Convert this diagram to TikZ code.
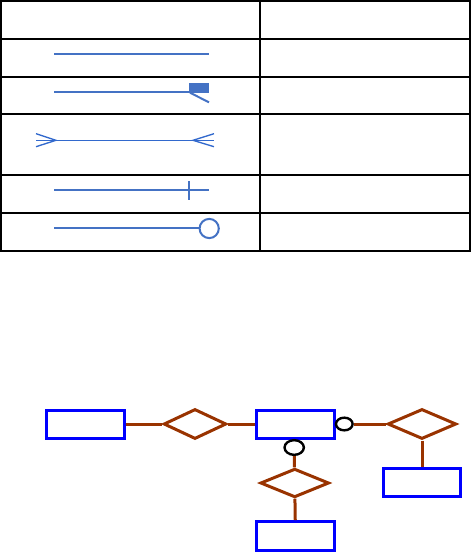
\documentclass[tikz,border=0pt]{standalone}
\usepackage{tikz}
\usetikzlibrary{shapes.geometric}

\definecolor{symblue}{RGB}{68,114,196}
\definecolor{crowblue}{RGB}{50,105,205}
\definecolor{relbrown}{RGB}{153,51,0}

\begin{document}
\begin{tikzpicture}[x=0.75pt, y=-0.75pt,
  grid/.style={draw=black, line width=1.5pt},
  sym/.style={draw=symblue, line width=1.5pt},
  entity/.style={draw=blue, line width=2.25pt, minimum width=58pt, minimum height=21pt, inner sep=0pt},
  rel/.style={diamond, draw=relbrown, line width=2.25pt, inner sep=0pt},
  link/.style={draw=relbrown, line width=2.25pt},
  ring/.style={ellipse, draw=black, line width=1.8pt, inner sep=0pt, minimum width=12.5pt, minimum height=9.5pt}]
  \useasboundingbox (0,0) rectangle (471,554);
  \draw[grid] (1,1) rectangle (470,251);
  \draw[grid] (259.5,1) -- (259.5,251);
  \draw[grid] (1,39.3) -- (470,39.3);
  \draw[grid] (1,77.3) -- (470,77.3);
  \draw[grid] (1,114.3) -- (470,114.3);
  \draw[grid] (1,175.3) -- (470,175.3);
  \draw[grid] (1,213.3) -- (470,213.3);
  \draw[sym] (54,53.7) -- (209,53.7);
  \draw[sym] (54,91.7) -- (191,91.7);
  \fill[symblue] (189,83) rectangle (209,92.7);
  \draw[sym] (190,92.7) -- (209,102.3);
  \draw[crowblue, line width=1pt] (36,140.3) -- (214,140.3);
  \draw[crowblue, line width=1pt] (36,133.7) -- (56,140.3) -- (36,146.7);
  \draw[crowblue, line width=1pt] (214,133.7) -- (193,140.3) -- (214,146.7);
  \draw[sym] (54,190) -- (209,190);
  \draw[sym] (189,181) -- (189,200);
  \draw[sym] (54,228) -- (199,228);
  \draw[sym] (209.2,228.5) circle [radius=9.6];
  \node[entity] (emp) at (85.5,424) {};
  \node[rel, minimum width=47pt, minimum height=22.5pt] (works) at (195,424) {};
  \node[entity] (dept) at (295.5,424) {};
  \node[rel, minimum width=51.5pt, minimum height=22.5pt] (runs) at (422,424) {};
  \node[entity] (proj) at (422,482.7) {};
  \node[rel, minimum width=51.5pt, minimum height=21.5pt] (owns) at (294.7,483) {};
  \node[entity, minimum height=22pt] (site) at (295.5,536.3) {};
  \node[ring] (optr) at (344.3,424) {};
  \node[ring, minimum width=14.5pt, minimum height=11pt] (optb) at (294.2,447.5) {};
  \draw[link] (emp) -- (works);
  \draw[link] (works) -- (dept);
  \draw[link] (optr) -- (runs);
  \draw[link] (runs) -- (proj);
  \draw[link] (optb) -- (owns);
  \draw[link] (owns) -- (site);
\end{tikzpicture}
\end{document}
